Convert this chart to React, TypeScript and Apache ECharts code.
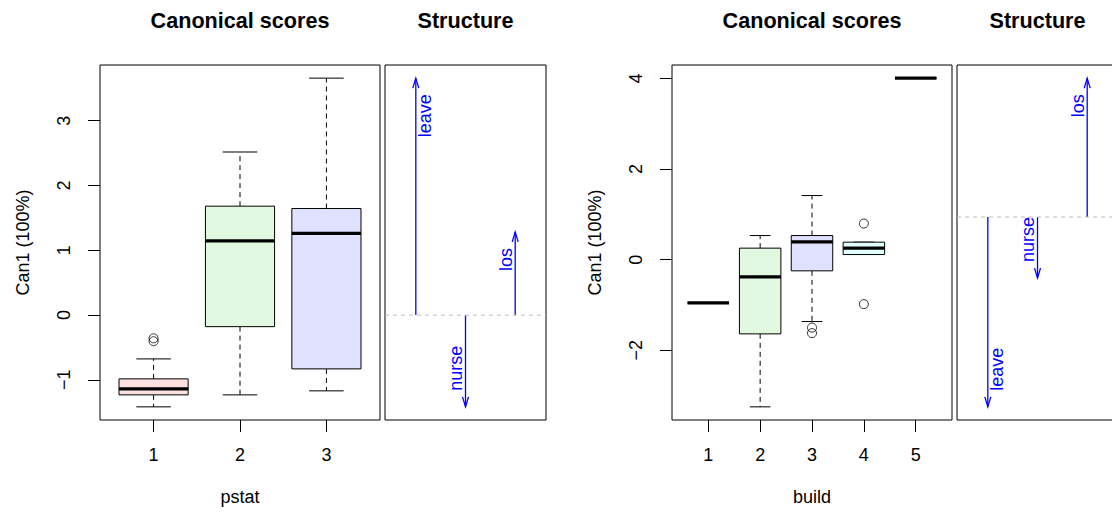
import React, { useEffect, useRef } from 'react';
import * as echarts from 'echarts';

// ---------- data ----------
const pstatLevels = ['1', '2', '3'];
const pstatLow = [-1.418, -1.233, -1.171];
const pstatQ1 = [-1.233, -0.18, -0.832];
const pstatMedian = [-1.14, 1.145, 1.259];
const pstatQ3 = [-0.986, 1.68, 1.644];
const pstatHigh = [-0.678, 2.516, 3.656];
const pstatOutlierGroup = [1, 1];
const pstatOutlierValue = [-0.36, -0.405];

const buildLevels = ['1', '2', '3', '4', '5'];
const buildLow = [-0.953, -3.249, -1.366, 0.113, 4.006];
const buildQ1 = [-0.953, -1.638, -0.247, 0.113, 4.006];
const buildMedian = [-0.953, -0.38, 0.393, 0.254, 4.006];
const buildQ3 = [-0.953, 0.254, 0.532, 0.386, 4.006];
const buildHigh = [-0.953, 0.532, 1.415, 0.386, 4.006];
const buildOutlierGroup = [3, 3, 4, 4];
const buildOutlierValue = [-1.499, -1.622, 0.797, -0.982];

const structureVars = ['leave', 'nurse', 'los'];
const pstatStructure = [3.66, -1.417, 1.285];
const buildStructure = [-3.249, -1.045, 2.377];

const pstatYTicks = [-1, 0, 1, 2, 3];
const buildYTicks = [-2, 0, 2, 4];

// ---------- styles ----------
const FONT = '"Liberation Sans", Arial, Helvetica, sans-serif';
const boxFills = ['#FFE0E0', '#E0F9E0', '#E0E0FF', '#E0FFFF', '#FFE0FF'];
const labelSide: Record<string, number> = { leave: 1, nurse: -1, los: -1 };

function extendRange(vals: number[]): [number, number] {
  const mn = Math.min(...vals);
  const mx = Math.max(...vals);
  const d = (mx - mn) * 0.04;
  return [mn - d, mx + d];
}

function xRange(n: number): [number, number] {
  const d = n * 0.04;
  return [0.5 - d, n + 0.5 + d];
}

const fmtNum = (v: number) => (v < 0 ? '\u2212' + Math.abs(v) : String(v));

function boxSeries(idx: number, levels: string[], low: number[], q1: number[], med: number[], q3: number[], high: number[]) {
  return {
    type: 'custom',
    xAxisIndex: idx,
    yAxisIndex: idx,
    encode: { x: 0, y: [1, 2, 3, 4, 5] },
    data: levels.map((_, i) => [i + 1, low[i], q1[i], med[i], q3[i], high[i]]),
    renderItem: (params: any, api: any) => {
      const x = api.value(0);
      const lo = api.value(1), a = api.value(2), m = api.value(3), b = api.value(4), hi = api.value(5);
      const P = (xx: number, yy: number) => api.coord([xx, yy]);
      const bl = P(x - 0.4, a), tr = P(x + 0.4, b);
      const c0 = P(x - 0.2, 0)[0], c1 = P(x + 0.2, 0)[0];
      const cx = P(x, 0)[0];
      const yLo = P(x, lo)[1], yA = P(x, a)[1], yM = P(x, m)[1], yB = P(x, b)[1], yHi = P(x, hi)[1];
      const lineStyle = { stroke: '#000', lineWidth: 1 };
      return {
        type: 'group',
        children: [
          { type: 'line', shape: { x1: cx, y1: yB, x2: cx, y2: yHi }, style: { ...lineStyle, lineDash: [5, 4] } },
          { type: 'line', shape: { x1: cx, y1: yA, x2: cx, y2: yLo }, style: { ...lineStyle, lineDash: [5, 4] } },
          { type: 'line', shape: { x1: c0, y1: yHi, x2: c1, y2: yHi }, style: lineStyle },
          { type: 'line', shape: { x1: c0, y1: yLo, x2: c1, y2: yLo }, style: lineStyle },
          {
            type: 'rect',
            shape: { x: bl[0], y: tr[1], width: tr[0] - bl[0], height: bl[1] - tr[1] },
            style: { fill: boxFills[params.dataIndex % boxFills.length], stroke: '#000', lineWidth: 1 },
          },
          { type: 'line', shape: { x1: bl[0], y1: yM, x2: tr[0], y2: yM }, style: { stroke: '#000', lineWidth: 3.2 } },
        ],
      };
    },
  };
}

function outlierSeries(idx: number, groups: number[], values: number[]) {
  return {
    type: 'scatter',
    xAxisIndex: idx,
    yAxisIndex: idx,
    symbol: 'circle',
    symbolSize: 9,
    itemStyle: { color: 'rgba(0,0,0,0)', borderColor: '#000', borderWidth: 1 },
    data: groups.map((g, i) => [g, values[i]]),
  };
}

function zeroLineSeries(idx: number, xr: [number, number]) {
  return {
    type: 'line',
    xAxisIndex: idx,
    yAxisIndex: idx,
    symbol: 'none',
    silent: true,
    lineStyle: { color: '#BEBEBE', width: 1, type: [4, 4] },
    data: [[xr[0], 0], [xr[1], 0]],
  };
}

function arrowSeries(idx: number, vars: string[], values: number[]) {
  return {
    type: 'custom',
    xAxisIndex: idx,
    yAxisIndex: idx,
    encode: { x: 0, y: 1 },
    data: vars.map((v, i) => [i + 1, values[i]]),
    renderItem: (params: any, api: any) => {
      const x = api.value(0);
      const v = api.value(1);
      const name = vars[params.dataIndex];
      const base = api.coord([x, 0]);
      const tip = api.coord([x, v]);
      const dir = v > 0 ? 1 : -1; // screen direction back from tip toward base
      const side = labelSide[name] ?? 1;
      return {
        type: 'group',
        children: [
          { type: 'line', shape: { x1: base[0], y1: base[1], x2: tip[0], y2: tip[1] }, style: { stroke: '#0000FF', lineWidth: 1.3 } },
          {
            type: 'polyline',
            shape: { points: [[tip[0] - 3, tip[1] + dir * 10], [tip[0], tip[1]], [tip[0] + 3, tip[1] + dir * 10]] },
            style: { stroke: '#0000FF', lineWidth: 1.3, fill: null },
          },
          {
            type: 'text',
            x: tip[0] + side * 9.5,
            y: tip[1] + dir * 16,
            rotation: Math.PI / 2,
            style: {
              text: name,
              fill: '#0000FF',
              fontSize: 18,
              fontFamily: FONT,
              align: v > 0 ? 'right' : 'left',
              verticalAlign: 'middle',
            },
          },
        ],
      };
    },
  };
}

export default function App() {
  const ref = useRef<HTMLDivElement>(null);

  useEffect(() => {
    document.body.style.margin = '0';
    if (!ref.current) return;
    const chart = echarts.init(ref.current, undefined, { renderer: 'svg' });

    const lxr = xRange(pstatLevels.length);
    const rxr = xRange(buildLevels.length);
    const sxr = xRange(structureVars.length);
    const lyr = extendRange([...pstatLow, ...pstatHigh, ...pstatOutlierValue]);
    const ryr = extendRange([...buildLow, ...buildHigh, ...buildOutlierValue]);
    const lsyr = extendRange([0, ...pstatStructure]);
    const rsyr = extendRange([0, ...buildStructure]);

    const txt = { color: '#000', fontSize: 18, fontFamily: FONT };

    const gridBase = { show: true, borderColor: '#000', borderWidth: 1, backgroundColor: 'transparent', containLabel: false, outerBoundsMode: 'none' };
    const grids = [
      { ...gridBase, left: 100, top: 65, width: 280, height: 355 },
      { ...gridBase, left: 385, top: 65, width: 161, height: 355 },
      { ...gridBase, left: 672, top: 65, width: 280, height: 355 },
      { ...gridBase, left: 957, top: 65, width: 161, height: 355 },
    ];

    const boxX = (g: number, xr: [number, number], levels: string[], name: string) => {
      const ticks = levels.map((_, i) => i + 1);
      return {
        gridIndex: g,
        type: 'value',
        position: 'bottom',
        min: xr[0],
        max: xr[1],
        splitLine: { show: false },
        axisLine: { show: false, onZero: false },
        axisTick: { show: true, length: 12, customValues: ticks, lineStyle: { color: '#000', width: 1 } },
        axisLabel: { ...txt, customValues: ticks, margin: 26, formatter: (v: number) => levels[Math.round(v) - 1] ?? '' },
        name,
        nameLocation: 'middle',
        nameGap: 68,
        nameTextStyle: txt,
      };
    };
    const boxY = (g: number, yr: [number, number], ticks: number[]) => ({
      gridIndex: g,
      type: 'value',
      position: 'left',
      min: yr[0],
      max: yr[1],
      splitLine: { show: false },
      axisLine: { show: false, onZero: false },
      axisTick: { show: true, length: 12, customValues: ticks, lineStyle: { color: '#000', width: 1 } },
      axisLabel: { ...txt, customValues: ticks, rotate: 90, margin: 27, formatter: (v: number) => fmtNum(v) },
      name: 'Can1 (100%)',
      nameLocation: 'middle',
      nameRotate: 90,
      nameGap: 68,
      nameTextStyle: txt,
    });
    const hiddenX = (g: number, xr: [number, number]) => ({ gridIndex: g, type: 'value', min: xr[0], max: xr[1], show: false, axisLine: { onZero: false }, splitLine: { show: false } });
    const hiddenY = (g: number, yr: [number, number]) => ({ gridIndex: g, type: 'value', min: yr[0], max: yr[1], show: false, axisLine: { onZero: false }, splitLine: { show: false } });

    const title = (x: number, text: string) => ({
      type: 'text',
      x,
      y: 20,
      style: {
        text,
        fill: '#000',
        font: `bold 21.6px ${FONT}`,
        align: 'center',
        verticalAlign: 'middle',
        textAlign: 'center',
        textVerticalAlign: 'middle',
      },
    });

    chart.setOption({
      animation: false,
      backgroundColor: '#fff',
      grid: grids,
      xAxis: [boxX(0, lxr, pstatLevels, 'pstat'), hiddenX(1, sxr), boxX(2, rxr, buildLevels, 'build'), hiddenX(3, sxr)],
      yAxis: [boxY(0, lyr, pstatYTicks), hiddenY(1, lsyr), boxY(2, ryr, buildYTicks), hiddenY(3, rsyr)],
      graphic: [title(240, 'Canonical scores'), title(465.5, 'Structure'), title(812, 'Canonical scores'), title(1037.5, 'Structure')],
      series: [
        boxSeries(0, pstatLevels, pstatLow, pstatQ1, pstatMedian, pstatQ3, pstatHigh),
        outlierSeries(0, pstatOutlierGroup, pstatOutlierValue),
        zeroLineSeries(1, sxr),
        arrowSeries(1, structureVars, pstatStructure),
        boxSeries(2, buildLevels, buildLow, buildQ1, buildMedian, buildQ3, buildHigh),
        outlierSeries(2, buildOutlierGroup, buildOutlierValue),
        zeroLineSeries(3, sxr),
        arrowSeries(3, structureVars, buildStructure),
      ],
    });

    return () => chart.dispose();
  }, []);

  return <div ref={ref} style={{ width: 1112, height: 514, position: 'absolute', left: 0, top: 0 }} />;
}
